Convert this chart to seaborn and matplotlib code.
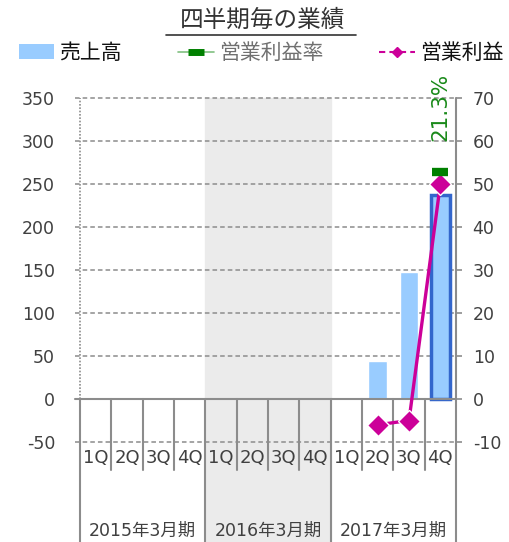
import numpy as np
import pandas as pd
import matplotlib
matplotlib.use("Agg")
import matplotlib.pyplot as plt
import matplotlib.transforms as mtransforms
from matplotlib.patches import Rectangle, Patch
from matplotlib.lines import Line2D
import seaborn as sns

# ---- データ ----
years = ["2015年3月期", "2016年3月期", "2017年3月期"]
quarters = ["1Q", "2Q", "3Q", "4Q"]
sales = [np.nan] * 9 + [44, 148, 237]           # 売上高 (左軸)
op_profit = [np.nan] * 9 + [-6, -5, 50]         # 営業利益 (右軸)
op_margin = [np.nan] * 11 + [21.3]              # 営業利益率 (%)

keys = [f"{y}-{q}" for y in years for q in quarters]
df = pd.DataFrame({"key": keys, "sales": sales, "profit": op_profit, "margin": op_margin})
pos = np.arange(len(keys))

sns.set_style("white")
FONT = ["DejaVu Sans", "Noto Sans CJK JP"]
plt.rcParams["font.family"] = FONT
plt.rcParams["axes.unicode_minus"] = False
TXT = "#404040"
GRID = "#8c8c8c"

W, H = 509, 542
fig = plt.figure(figsize=(W / 100, H / 100), dpi=100)
ax = fig.add_axes([80 / W, 1 - 442 / H, 376 / W, 344 / H])
ax.patch.set_alpha(0)

sns.barplot(data=df, x="key", y="sales", order=keys, color="#99ccff",
            saturation=1, width=0.6, ax=ax, zorder=3)
for p in ax.patches:
    if p.get_height() > 200:
        p.set_edgecolor("#3366cc")
        p.set_linewidth(2.5)

ax.set_xlim(-0.5, 11.5)
ax.set_ylim(-50, 350)
ax.set_yticks(range(-50, 351, 50))
ax.set_xticks([])
ax.set_xlabel("")
ax.set_ylabel("")
for s in ax.spines.values():
    s.set_visible(False)
ax.tick_params(axis="y", length=0, pad=18, labelsize=12.5, labelcolor=TXT)
for v in range(-50, 351, 50):
    if v != 0:
        ax.plot([-0.65, 11.5], [v, v], ls=(0, (3, 2)), color=GRID, lw=1.1,
                zorder=1, clip_on=False)
ax.plot([-0.65, 11.5], [0, 0], color=GRID, lw=1.5, zorder=4, clip_on=False)

trans = mtransforms.blended_transform_factory(ax.transData, ax.transAxes)
bottom = -(H - 442) / 344
zero = 50 / 400
# 2016年3月期 の背景
ax.add_patch(Rectangle((3.5, bottom), 4, 1 - bottom, transform=trans,
                       color="#ebebeb", zorder=0, clip_on=False))
# 区切り線
for b in np.arange(0.5, 11, 1):
    if b in (3.5, 7.5):
        continue
    ax.plot([b, b], [zero, -(470 - 442) / 344], transform=trans, color=GRID,
            lw=1.5, clip_on=False, zorder=4)
for b in (-0.5, 3.5, 7.5):
    ax.plot([b, b], [zero, bottom], transform=trans, color=GRID, lw=1.5,
            clip_on=False, zorder=4)
ax.plot([-0.5, -0.5], [zero, 1], transform=trans, color=GRID, lw=1.2,
        ls=(0, (1, 1)), clip_on=False, zorder=4)
ax.plot([11.5, 11.5], [1, bottom], transform=trans, color=GRID, lw=1.5,
        clip_on=False, zorder=4)

# カテゴリラベル
for i, k in enumerate(keys):
    ax.text(i, -(458 - 442) / 344, k.split("-")[1], transform=trans,
            ha="center", va="center", fontsize=13, color=TXT)
for j, y in enumerate(years):
    ax.text(j * 4 + 1.5, -(531 - 442) / 344, y, transform=trans,
            ha="center", va="center", fontsize=12.5, color=TXT, family=FONT)

# 右軸: 営業利益
ax2 = ax.twinx()
ax2.set_ylim(-10, 70)
ax2.set_yticks(range(-10, 71, 10))
for s in ax2.spines.values():
    s.set_visible(False)
ax2.tick_params(axis="y", length=4, width=1.2, color=GRID, pad=8,
                labelsize=12.5, labelcolor=TXT)
ax2.plot(pos, df["profit"], color="#cc0099", lw=2.4,
         marker="D", ms=11, mec="white", mew=1, zorder=6)

# 営業利益率 (非表示の軸)
ax3 = ax.twinx()
ax3.set_ylim(-28.2 / 7, 28.2)
ax3.axis("off")
ax3.plot(pos, df["margin"], ls="none", marker="_", ms=11, mew=6,
         color="#008000", zorder=7)
ax3.text(11, 24.2, "21.3%", rotation=90, ha="center", va="bottom",
         fontsize=15.5, color="#1a8a1a")

# タイトル
fig.text(0.515, 1 - 20 / H, "四半期毎の業績", ha="center", va="center",
         fontsize=17, color="#333333", family=["Noto Sans CJK JP"])
fig.add_artist(Line2D([166 / W, 356 / W], [1 - 35 / H] * 2, color="#333333", lw=1.2))

# 凡例
handles = [
    Patch(facecolor="#99ccff", edgecolor="none"),
    Line2D([], [], color="#80c080", lw=1.2, marker="_", ms=11, mew=5,
           mec="#008000"),
    Line2D([], [], color="#cc0099", lw=1.5, ls=(0, (3, 2)), marker="D",
           ms=5, mec="#cc0099"),
]
leg = fig.legend(handles, ["売上高", "営業利益率", "営業利益"], ncol=3,
                 loc="center", bbox_to_anchor=(0.513, 1 - 53 / H), frameon=False,
                 prop={"family": ["Noto Sans CJK JP"], "size": 15},
                 handlelength=1.7, handletextpad=0.25, columnspacing=2.7,
                 borderaxespad=0)
for t, c in zip(leg.get_texts(), ["#111111", "#707070", "#111111"]):
    t.set_color(c)

fig.savefig("out.png", dpi=100)
